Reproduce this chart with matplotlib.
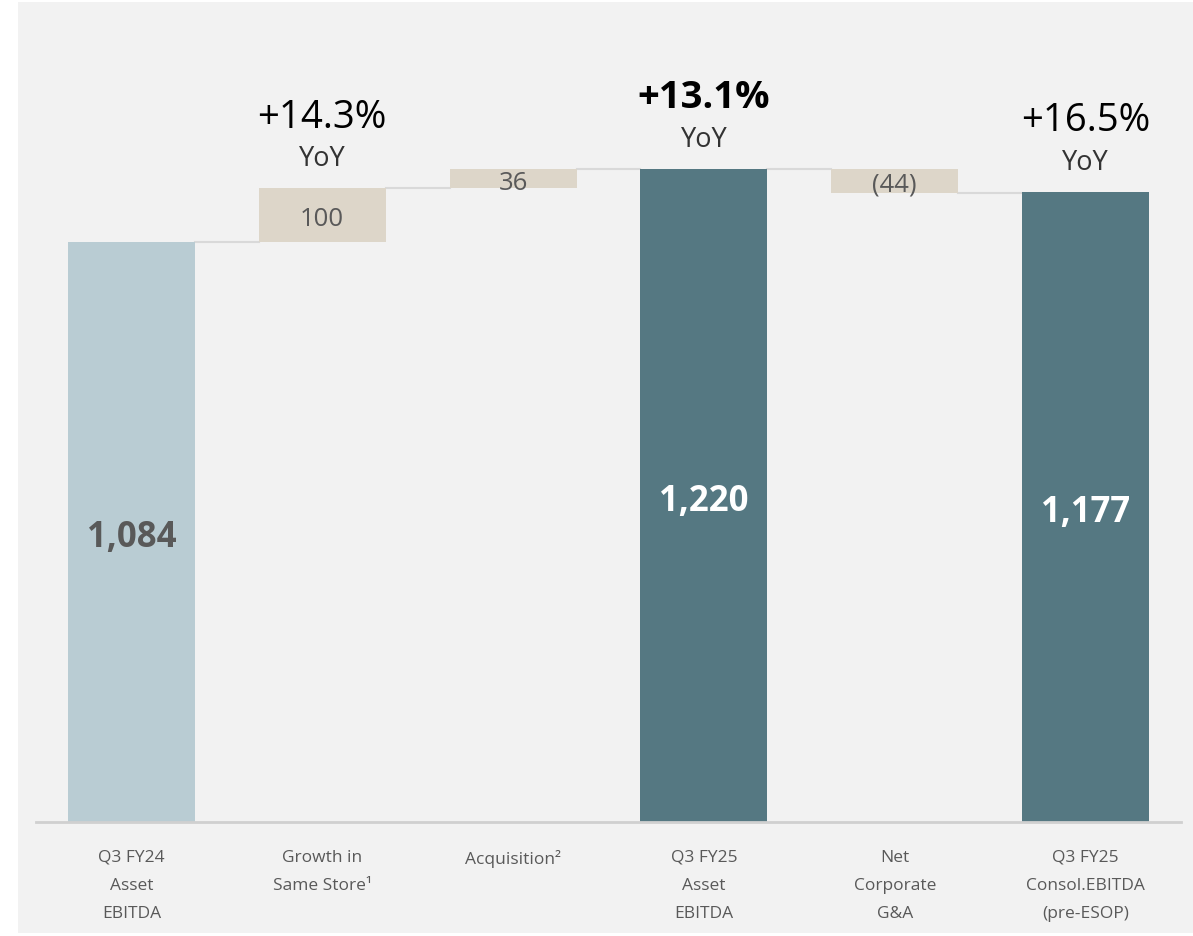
import matplotlib.pyplot as plt
import numpy as np
from matplotlib.patches import Rectangle

plt.rcParams["font.family"] = ["Open Sans", "DejaVu Sans"]

# data
categories = [
    "Q3 FY24\nAsset\nEBITDA",
    "Growth in\nSame Store\u00b9",
    "Acquisition\u00b2",
    "Q3 FY25\nAsset\nEBITDA",
    "Net\nCorporate\nG&A",
    "Q3 FY25\nConsol.EBITDA\n(pre-ESOP)",
]
values = [1084, 100, 36, 1220, -44, 1177]
kinds = ["total", "delta", "delta", "total", "delta", "total"]
value_labels = ["1,084", "100", "36", "1,220", "(44)", "1,177"]
yoy_labels = [None, "+14.3%", None, "+13.1%", None, "+16.5%"]
yoy_bold = [False, False, False, True, False, False]

BG = "#f2f2f2"
LIGHT = "#b9ccd3"
DARK = "#557882"
DELTA = "#ddd6c9"
TXT = "#595959"
LINE = "#d9d9d9"

fig = plt.figure(figsize=(11.93, 9.36), dpi=100)
fig.patch.set_facecolor("white")
fig.patches.append(Rectangle((18 / 1193, 3 / 936), 1 - 18 / 1193, 1 - 5 / 936,
                             transform=fig.transFigure, facecolor=BG,
                             edgecolor="none", zorder=-10))

ax = fig.add_axes([36 / 1193, (936 - 822) / 936, (1181 - 36) / 1193, 822 / 936])
ax.set_facecolor("none")
scale = 580 / 1084  # px per unit
ax.set_xlim(-0.5, 5.5)
ax.set_ylim(0, 822 / scale)

width = 0.665
x = np.arange(len(values))
bottoms, tops = [], []
running = 0
for i, (v, k) in enumerate(zip(values, kinds)):
    if k == "total":
        b, t = 0, v
        running = v
    else:
        b, t = running, running + v
        running = running + v
    bottoms.append(min(b, t))
    tops.append(max(b, t))
    if k == "total":
        col = LIGHT if i == 0 else DARK
    else:
        col = DELTA
    ax.bar(x[i], tops[i] - bottoms[i], bottom=bottoms[i], width=width,
           color=col, edgecolor="none", zorder=2)

# connector lines
levels = []
running = 0
for v, k in zip(values, kinds):
    running = v if k == "total" else running + v
    levels.append(running)
for i in range(len(values) - 1):
    ax.plot([x[i] + width / 2, x[i + 1] - width / 2], [levels[i], levels[i]],
            color=LINE, lw=1.5, zorder=1)

# value labels
for i, (lab, k) in enumerate(zip(value_labels, kinds)):
    if k == "total":
        ax.text(x[i], tops[i] * 0.49, lab, ha="center", va="center",
                fontsize=25, fontweight="bold",
                color=TXT if i == 0 else "white", zorder=3)
    else:
        ax.annotate(lab, (x[i], (tops[i] + bottoms[i]) / 2), xytext=(0, -3),
                    textcoords="offset points", ha="center", va="center",
                    fontsize=18.5, color=TXT, zorder=3)

# YoY headers
for i, lab in enumerate(yoy_labels):
    if lab is None:
        continue
    ax.annotate(lab, (x[i], tops[i]), xytext=(0, 51), textcoords="offset points",
                ha="center", va="center", fontsize=27.5,
                fontweight="bold" if yoy_bold[i] else "normal", color="black")
    ax.annotate("YoY", (x[i], tops[i]), xytext=(0, 21), textcoords="offset points",
                ha="center", va="center", fontsize=19.5, color="#333333")

ax.set_xticks(x)
ax.set_xticklabels(categories, fontsize=12.5, color=TXT, linespacing=2.0,
                   va="top")
ax.tick_params(axis="x", length=0, pad=20)
ax.set_yticks([])
for s in ["top", "right", "left"]:
    ax.spines[s].set_visible(False)
ax.spines["bottom"].set_color("#d0d0d0")
ax.spines["bottom"].set_linewidth(2)

fig.savefig("out.png", dpi=100, facecolor=fig.get_facecolor())
